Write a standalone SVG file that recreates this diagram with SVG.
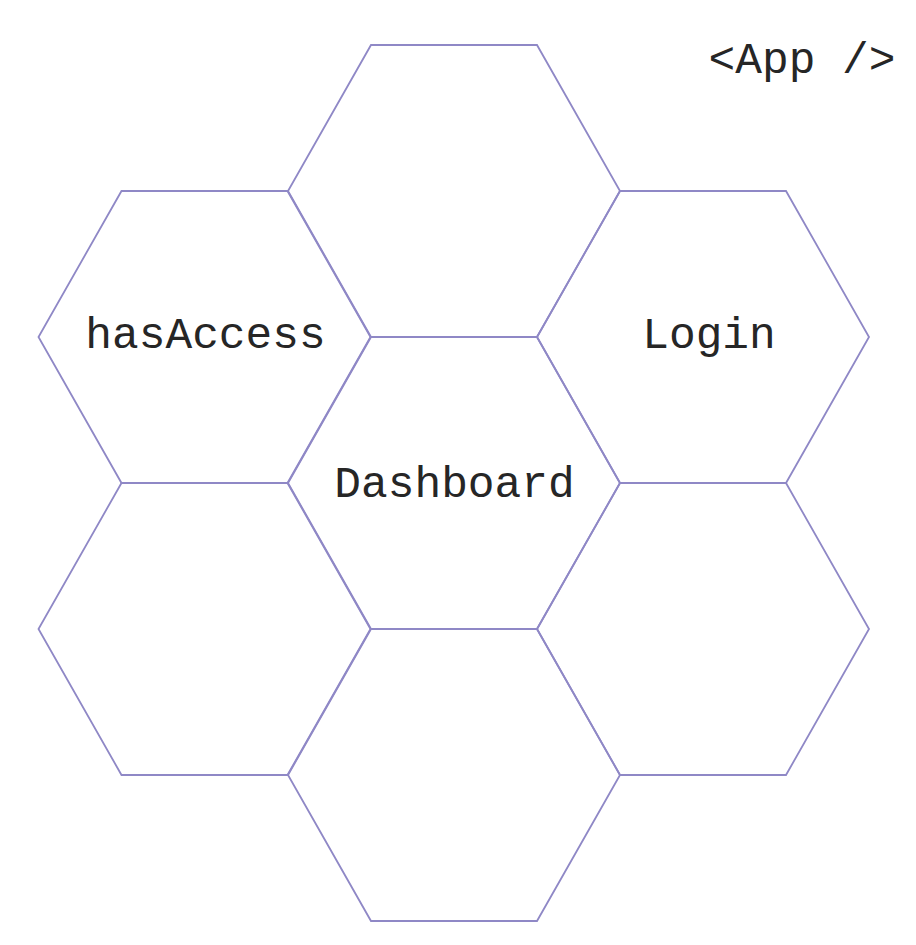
<svg xmlns="http://www.w3.org/2000/svg" width="916" height="945" viewBox="0 0 916 945">
<defs>
<style>
.hex{fill:none;stroke:#8f88c6;stroke-width:1.8;stroke-linejoin:miter}
.lbl{font-family:"Liberation Mono","DejaVu Sans Mono",monospace;font-size:44.5px;fill:#262626;text-anchor:middle}
</style>
<polygon id="h" points="-83,-146 83,-146 166,0 83,146 -83,146 -166,0"/>
</defs>
<rect width="916" height="945" fill="#ffffff"/>
<g id="connectors"></g>
<g id="hex-top"><use href="#h" class="hex" x="454" y="191"/></g>
<g id="hex-hasAccess"><use href="#h" class="hex" x="204.5" y="337"/><text class="lbl" x="205.5" y="348">hasAccess</text></g>
<g id="hex-login"><use href="#h" class="hex" x="703" y="337"/><text class="lbl" x="709" y="348">Login</text></g>
<g id="hex-dashboard"><use href="#h" class="hex" x="454" y="483"/><text class="lbl" x="454.5" y="497">Dashboard</text></g>
<g id="hex-left-bottom"><use href="#h" class="hex" x="204.5" y="629"/></g>
<g id="hex-right-bottom"><use href="#h" class="hex" x="703" y="629"/></g>
<g id="hex-bottom"><use href="#h" class="hex" x="454" y="775"/></g>
<g id="app-label"><text class="lbl" x="802" y="73">&lt;App /&gt;</text></g>
</svg>
